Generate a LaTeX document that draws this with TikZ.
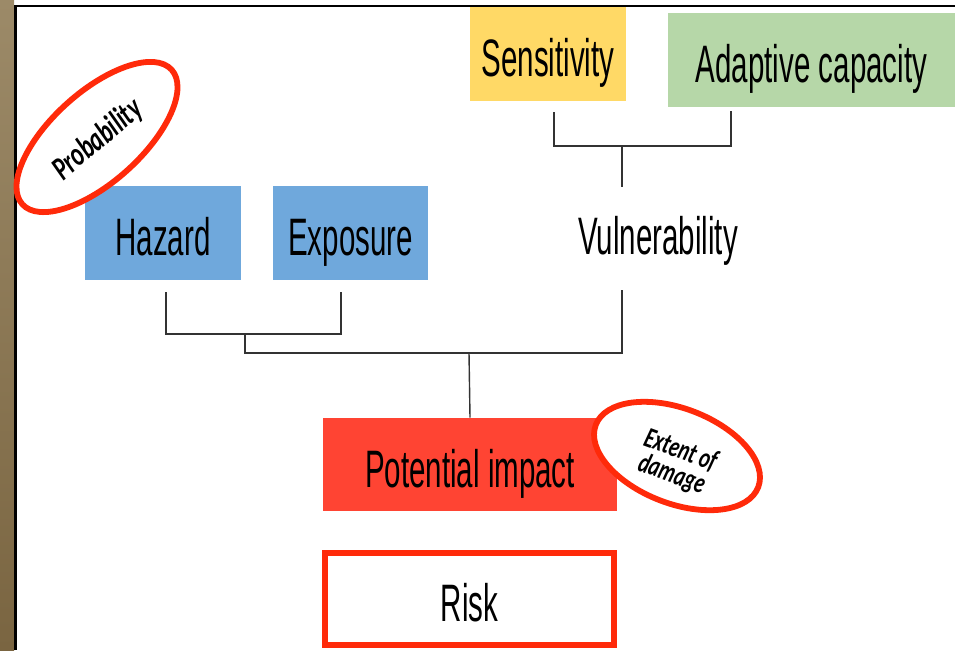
\documentclass[tikz,border=0pt]{standalone}
\usepackage{graphicx}
\usepackage{fontspec}
\setmainfont{Liberation Sans}
\newfontfamily\calibri{Carlito}
\usetikzlibrary{shapes.geometric}
\definecolor{hazblue}{HTML}{6FA8DC}
\definecolor{sensyellow}{HTML}{FFD966}
\definecolor{adaptgreen}{HTML}{B6D7A8}
\definecolor{impactred}{HTML}{FF4433}
\definecolor{ringred}{HTML}{FF2A0A}
\definecolor{linkgray}{HTML}{333333}
\definecolor{woodA}{HTML}{9C8A68}
\definecolor{woodB}{HTML}{7A6541}
\newcommand{\narrow}[1]{\scalebox{0.56}[1]{#1}}
\newcommand{\ringtext}[1]{\scalebox{0.7}[1]{#1}}

\begin{document}
\begin{tikzpicture}[x=0.02cm, y=-0.02cm,
  box/.style={inner sep=0pt, text height=26pt, text depth=0pt, font=\fontsize{30}{36}\selectfont},
  ring/.style={ellipse, draw=ringred, line width=3.3pt, fill=white, inner sep=0pt},
  ringlabel/.style={inner sep=0pt, align=center, font=\calibri\bfseries\itshape},
  link/.style={draw=linkgray, line width=0.8pt}]
  \useasboundingbox (0,0) rectangle (955,650);
  \fill[white] (0,0) rectangle (955,650);
  \shade[top color=woodA, bottom color=woodB] (0,0) rectangle (14,650);
  \draw[line width=1.7pt] (15.5,6) -- (15.5,650);
  \draw[line width=1.2pt] (14,6) -- (955,6);

  \node[box, fill=sensyellow, minimum width=3.12cm, minimum height=1.88cm] (sens) at (548,54) {\narrow{Sensitivity}};
  \node[box, fill=adaptgreen, minimum width=5.74cm, minimum height=1.88cm] (adapt) at (811.5,60) {\narrow{Adaptive capacity}};
  \node[box, fill=hazblue, minimum width=3.12cm, minimum height=1.88cm] (haz) at (163,233) {\narrow{Hazard}};
  \node[box, fill=hazblue, minimum width=3.1cm, minimum height=1.88cm] (expo) at (350.5,233) {\narrow{Exposure}};
  \node[box] (vuln) at (658,232) {\narrow{Vulnerability}};
  \node[box, fill=impactred, minimum width=5.88cm, minimum height=1.86cm] (pot) at (470,464.5) {\narrow{Potential impact}};
  \node[box, draw=ringred, line width=3.4pt, minimum width=5.78cm, minimum height=1.84cm] (risk) at (469.5,599) {\narrow{Risk}};

  \coordinate (sensfoot) at (554,112);
  \coordinate (adaptfoot) at (731,111);
  \coordinate (vjoin) at (622,146);
  \coordinate (vtop) at (622,187);
  \coordinate (hazfoot) at (166,292);
  \coordinate (expofoot) at (341,292);
  \coordinate (hejoin) at (245,334);
  \coordinate (vulnfoot) at (622,290);
  \coordinate (mainjoin) at (469,353);
  \draw[link] (sensfoot) |- (vjoin) -| (adaptfoot);
  \draw[link] (vjoin) -- (vtop);
  \draw[link] (hazfoot) |- (hejoin) -| (expofoot);
  \draw[link] (hejoin) |- (mainjoin) -| (vulnfoot);
  \draw[link] (mainjoin) -- (pot.north);

  \node[ring, rotate=42, minimum width=4.02cm, minimum height=1.8cm] (prob) at (97,137) {};
  \node[ringlabel, rotate=40] (probtext) at (98,140) {\fontsize{19}{21}\selectfont\ringtext{Probability}};
  \node[ring, rotate=-21, minimum width=3.48cm, minimum height=1.9cm] (damage) at (677,456) {};
  \node[ringlabel, rotate=-20] (damagetext) at (676,463)
    {\fontsize{16.5}{19.5}\selectfont\ringtext{Extent of}\\\fontsize{16.5}{19.5}\selectfont\ringtext{damage}};
\end{tikzpicture}
\end{document}
